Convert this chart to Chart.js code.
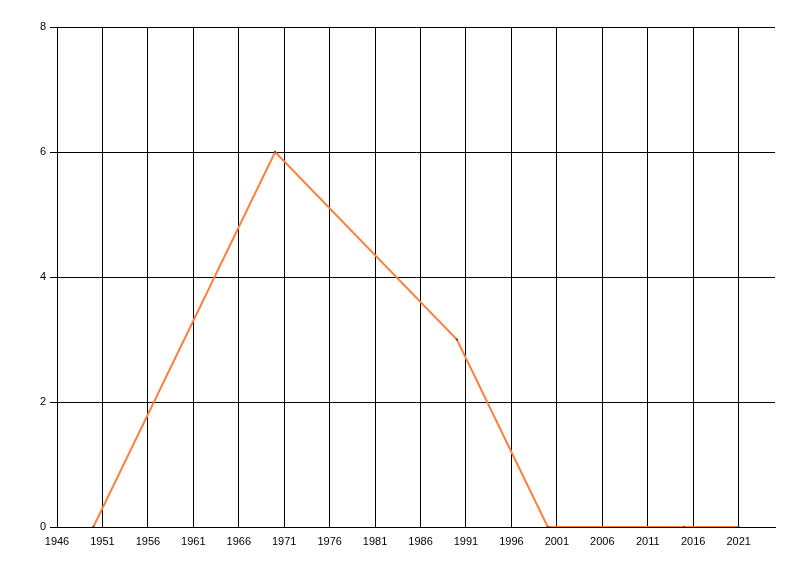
<!DOCTYPE html>
<html lang="en">
<head>
  <meta charset="UTF-8">
  <title>Line chart</title>
  <script src="https://cdn.jsdelivr.net/npm/chart.js"></script>
  <style>
    body {
      margin: 0;
      background-color: #fff;
    }
    #wrap {
      width: 800px;
      height: 576px;
    }
  </style>
</head>
<body>
  <div id="wrap">
    <canvas id="chart" width="800" height="576"></canvas>
  </div>

  <script>
    // data
    const years = [1950, 1970, 1990, 2000, 2015, 2021];
    const values = [0, 6, 3, 0, 0, 0];
    const xTicks = [1946, 1951, 1956, 1961, 1966, 1971, 1976, 1981, 1986, 1991, 1996, 2001, 2006, 2011, 2016, 2021];
    const yTicks = [0, 2, 4, 6, 8];

    const font = { family: "'Liberation Sans', Arial, sans-serif", size: 11 };

    new Chart(document.getElementById("chart"), {
      type: 'line',
      data: {
        datasets: [{
          data: years.map((y, i) => ({ x: y, y: values[i] })),
          borderColor: '#ff7f3f',
          borderWidth: 2,
          tension: 0,
          pointRadius: 1.2,
          pointBackgroundColor: '#555',
          pointBorderWidth: 0,
          fill: false
        }]
      },
      options: {
        responsive: false,
        animation: false,
        layout: { padding: { top: 27, right: 25, left: 0, bottom: 0 } },
        plugins: { legend: { display: false }, tooltip: { enabled: false } },
        scales: {
          x: {
            type: 'linear',
            min: 1946,
            max: 2025,
            afterBuildTicks: (scale) => {
              scale.ticks = xTicks.map(v => ({ value: v }));
            },
            afterFit: (scale) => { scale.height = 49; },
            grid: { color: '#000', lineWidth: 1, drawTicks: false },
            border: { color: '#000', width: 1 },
            ticks: { color: '#000', font: font, padding: 8, maxRotation: 0, autoSkip: false, callback: v => String(v) }
          },
          y: {
            min: 0,
            max: 8,
            afterBuildTicks: (scale) => {
              scale.ticks = yTicks.map(v => ({ value: v }));
            },
            afterFit: (scale) => { scale.width = 57; },
            grid: { color: '#000', lineWidth: 1, drawTicks: true, tickLength: 7 },
            border: { color: '#000', width: 1 },
            ticks: { color: '#000', font: font, padding: 4 }
          }
        }
      }
    });
  </script>
</body>
</html>
